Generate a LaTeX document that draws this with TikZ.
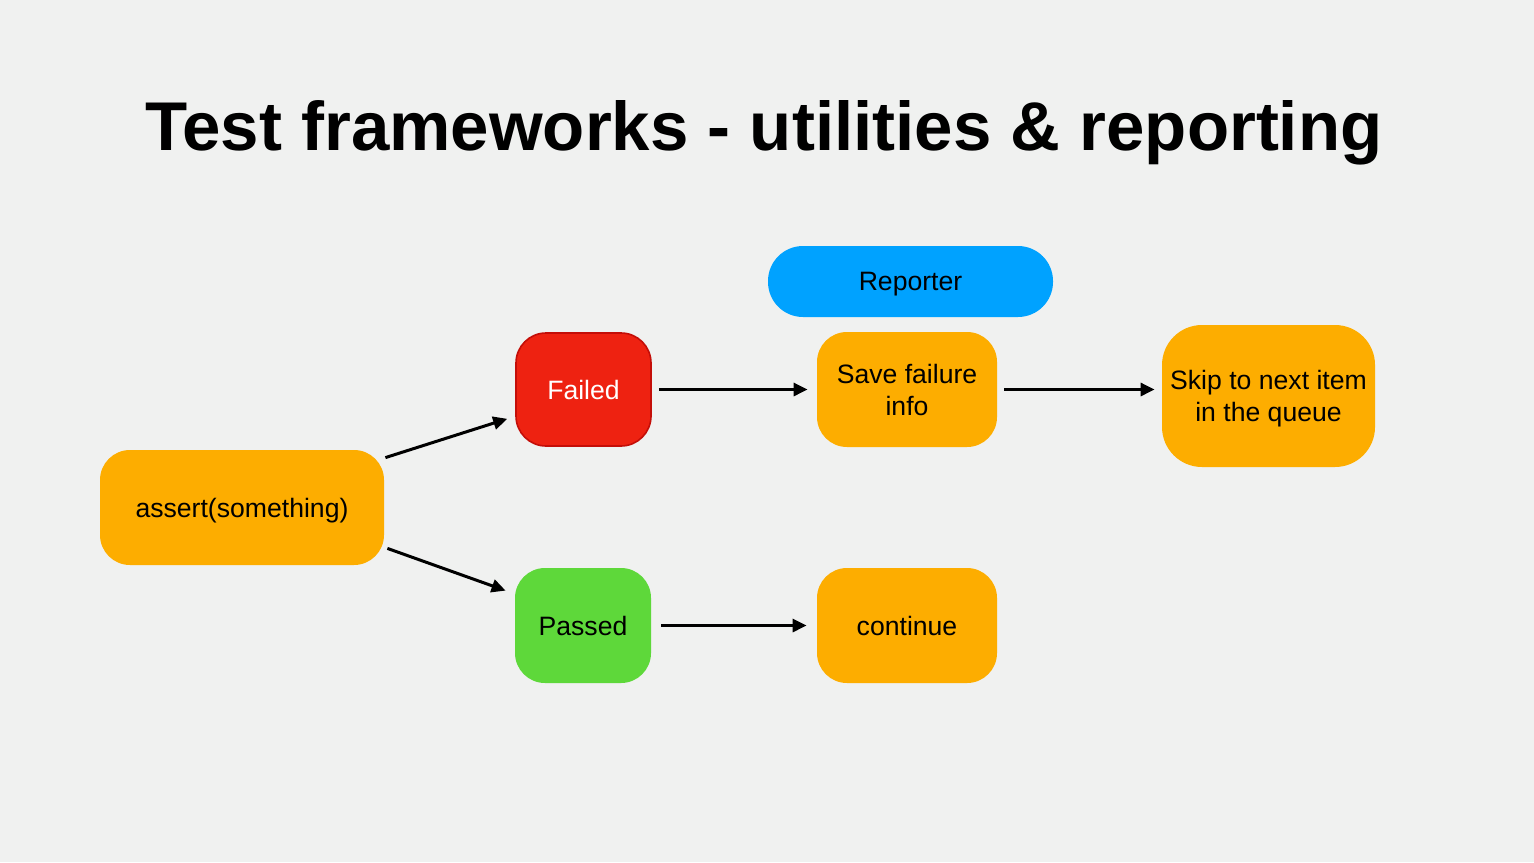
\documentclass[tikz,border=0pt]{standalone}
\usepackage{fontspec}
\setmainfont{Liberation Sans}
\usetikzlibrary{arrows.meta}
\definecolor{bg}{HTML}{F0F1F0}
\definecolor{orangebox}{HTML}{FDAD00}
\definecolor{redbox}{HTML}{EE2211}
\definecolor{redborder}{HTML}{C40E08}
\definecolor{greenbox}{HTML}{5ED83A}
\definecolor{bluebox}{HTML}{00A2FF}
\tikzset{
  box/.style={rectangle, rounded corners=15pt, inner sep=0pt, align=center,
    font=\fontsize{13.3}{16}\selectfont, text=black, text depth=0pt},
  orangestep/.style={box, fill=orangebox},
  arr/.style={line width=1.5pt, -{Triangle[length=7pt,width=6.5pt]}},
}
\begin{document}
\begin{tikzpicture}[x=0.5pt,y=-0.5pt]
\fill[bg] (0,0) rectangle (1534,862);
\useasboundingbox (0,0) rectangle (1534,862);
\node[anchor=base, font=\bfseries\fontsize{34.5}{40}\selectfont, text=black] (title) at (764,150) {Test frameworks - utilities \& reporting};
\node[box, fill=bluebox, rounded corners=17.5pt, minimum width=142.5pt, minimum height=35.5pt] (rep) at (910.5,281.5) {Reporter};
\node[box, fill=redbox, draw=redborder, line width=0.8pt, text=white, minimum width=67.5pt, minimum height=56.5pt] (fail) at (583.5,389.5) {Failed};
\node[orangestep, minimum width=90pt, minimum height=57.5pt] (save) at (907,389.5) {Save failure\\info};
\node[orangestep, rounded corners=20pt, minimum width=106.5pt, minimum height=71pt] (skip) at (1268.5,396) {Skip to next item\\in the queue};
\node[orangestep, minimum width=142pt, minimum height=57.5pt] (assert) at (242,507.5) {assert(something)};
\node[box, fill=greenbox, minimum width=68pt, minimum height=57.5pt] (pass) at (583,625.5) {Passed};
\node[orangestep, minimum width=90pt, minimum height=57.5pt] (cont) at (907,625.5) {continue};
\draw[arr] ([shift={(1,8)}]assert.north east) -- ([shift={(-8,-28)}]fail.south west);
\draw[arr] ([shift={(3,-17)}]assert.south east) -- ([shift={(-9,23)}]pass.north west);
\draw[arr, shorten <=3.5pt, shorten >=4.5pt] (fail.east) -- (save.west);
\draw[arr, shorten <=3.5pt, shorten >=3.5pt] (save.east) -- (save.east -| skip.west);
\draw[arr, shorten <=5pt, shorten >=5pt] (pass.east) -- (cont.west);
\end{tikzpicture}
\end{document}
